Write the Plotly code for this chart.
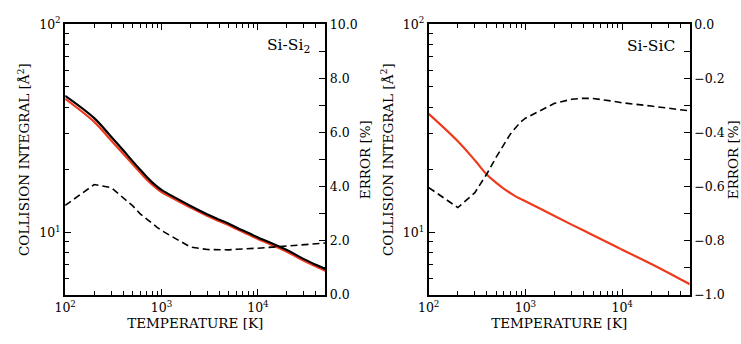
import numpy as np
import plotly.graph_objects as go

# ---------------- data ----------------
temperature = [100, 200, 300, 400, 500, 600, 700, 800, 900, 1000,
               2000, 3000, 4000, 5000, 6000, 7000, 8000, 9000, 10000,
               20000, 30000, 40000, 50000]

sisi2_reference = [45.3, 35.4, 28.8, 24.8, 22.0, 20.0, 18.5, 17.4, 16.6, 16.0,
                   13.4, 12.2, 11.5, 11.0, 10.55, 10.2, 9.93, 9.67, 9.46,
                   8.22, 7.44, 6.99, 6.68]
sisi2_fit = [43.8, 33.95, 27.65, 23.9, 21.3, 19.4, 17.97, 16.93, 16.18, 15.62,
             13.16, 11.99, 11.3, 10.81, 10.37, 10.03, 9.76, 9.5, 9.3,
             8.07, 7.3, 6.86, 6.55]
sisi2_error = [3.31, 4.08, 3.97, 3.6, 3.3, 3.0, 2.8, 2.62, 2.5, 2.38,
               1.77, 1.68, 1.67, 1.67, 1.69, 1.70, 1.71, 1.72, 1.73,
               1.81, 1.86, 1.89, 1.92]

sisic_fit = [37.1, 27.4, 22.2, 18.9, 17.3, 16.2, 15.45, 14.85, 14.45, 14.1,
             12.0, 10.9, 10.2, 9.7, 9.3, 8.97, 8.7, 8.47, 8.26,
             7.05, 6.4, 5.96, 5.64]
sisic_error = [-0.603, -0.677, -0.622, -0.552, -0.49, -0.445, -0.405, -0.38, -0.36, -0.347,
               -0.292, -0.277, -0.273, -0.274, -0.277, -0.28, -0.284, -0.287, -0.29,
               -0.302, -0.31, -0.315, -0.32]

x_major = [100, 1000, 10000]
x_major_text = ["10<sup>2</sup>", "10<sup>3</sup>", "10<sup>4</sup>"]
x_minor = [200, 300, 400, 500, 600, 700, 800, 900,
           2000, 3000, 4000, 5000, 6000, 7000, 8000, 9000,
           20000, 30000, 40000]
y_major = [10, 100]
y_major_text = ["10<sup>1</sup>", "10<sup>2</sup>"]
y_minor = [6, 7, 8, 9, 20, 30, 40, 50, 60, 70, 80, 90]
err1_major = [0, 2, 4, 6, 8, 10]
err1_minor = [1, 3, 5, 7, 9]
err2_major = [-1.0, -0.8, -0.6, -0.4, -0.2, 0.0]
err2_minor = [-0.9, -0.7, -0.5, -0.3, -0.1]

RED = "#ee3a1c"
FONT = "DejaVu Serif"
W, H = 741, 344

fig = go.Figure()
solid_red = dict(color=RED, width=2.2, shape="spline", smoothing=1.0)
solid_black = dict(color="black", width=2.2, shape="spline", smoothing=1.0)
dashed = dict(color="black", width=1.6, dash="7px,4px")
fig.add_trace(go.Scatter(x=temperature, y=sisi2_fit, mode="lines",
                         line=solid_red, xaxis="x", yaxis="y"))
fig.add_trace(go.Scatter(x=temperature, y=sisi2_reference, mode="lines",
                         line=solid_black, xaxis="x", yaxis="y"))
fig.add_trace(go.Scatter(x=temperature, y=sisi2_error, mode="lines",
                         line=dashed, xaxis="x", yaxis="y2"))
fig.add_trace(go.Scatter(x=temperature, y=sisic_fit, mode="lines",
                         line=solid_red, xaxis="x2", yaxis="y3"))
fig.add_trace(go.Scatter(x=temperature, y=sisic_error, mode="lines",
                         line=dashed, xaxis="x2", yaxis="y4"))

ydom = [(H - 300) / H, (H - 16) / H]
x1dom = [55 / W, 319 / W]
x2dom = [424 / W, 689 / W]

tickfont = dict(family=FONT, size=12.5, color="black")
titlefont = dict(family=FONT, size=13.5, color="black")

def xaxis(dom, anchor):
    return dict(domain=dom, anchor=anchor, type="log",
                range=[2, np.log10(50000)],
                tickmode="array", tickvals=x_major, ticktext=x_major_text,
                ticks="inside", ticklen=6, tickwidth=1.3, tickcolor="black",
                minor=dict(tickmode="array", tickvals=x_minor, ticks="inside",
                           ticklen=4, tickwidth=1.2, tickcolor="black"),
                showline=True, linecolor="black", linewidth=2, mirror="ticks",
                showgrid=False, zeroline=False, tickfont=tickfont,
                title=dict(text="TEMPERATURE [K]", font=titlefont, standoff=5))

def ylog(anchor):
    return dict(domain=ydom, anchor=anchor, type="log",
                range=[np.log10(5), 2],
                tickmode="array", tickvals=y_major, ticktext=y_major_text,
                ticks="inside", ticklen=6, tickwidth=1.3, tickcolor="black",
                minor=dict(tickmode="array", tickvals=y_minor, ticks="inside",
                           ticklen=4, tickwidth=1.2, tickcolor="black"),
                showline=True, linecolor="black", linewidth=2,
                showgrid=False, zeroline=False, tickfont=tickfont,
                title=dict(text="COLLISION INTEGRAL [Å<sup>2</sup>]", font=titlefont, standoff=6))

def yerr(anchor, overlay, rng, major, minor):
    return dict(anchor=anchor, overlaying=overlay, side="right",
                range=rng, tickmode="array", tickvals=major, tickformat=".1f",
                ticks="inside", ticklen=6, tickwidth=1.3, tickcolor="black",
                minor=dict(tickmode="array", tickvals=minor, ticks="inside",
                           ticklen=6, tickwidth=1.2, tickcolor="black"),
                showline=True, linecolor="black", linewidth=2,
                showgrid=False, zeroline=False, tickfont=tickfont,
                title=dict(text="ERROR [%]", font=titlefont, standoff=4))

fig.update_layout(
    width=W, height=H,
    margin=dict(l=0, r=0, t=0, b=0),
    paper_bgcolor="white", plot_bgcolor="white",
    showlegend=False,
    font=dict(family=FONT, color="black"),
    xaxis=xaxis(x1dom, "y"),
    yaxis=ylog("x"),
    yaxis2=yerr("x", "y", [0, 10], err1_major, err1_minor),
    xaxis2=xaxis(x2dom, "y3"),
    yaxis3=ylog("x2"),
    yaxis4=yerr("x2", "y3", [-1, 0], err2_major, err2_minor),
    annotations=[
        dict(text="Si-Si<sub>2</sub>", xref="x domain", yref="y domain", x=0.95, y=0.92,
             xanchor="right", yanchor="middle", showarrow=False,
             font=dict(family=FONT, size=15.5, color="black")),
        dict(text="Si-SiC", xref="x2 domain", yref="y3 domain", x=0.95, y=0.92,
             xanchor="right", yanchor="middle", showarrow=False,
             font=dict(family=FONT, size=15.5, color="black")),
    ],
)

fig.write_html("out.html")
